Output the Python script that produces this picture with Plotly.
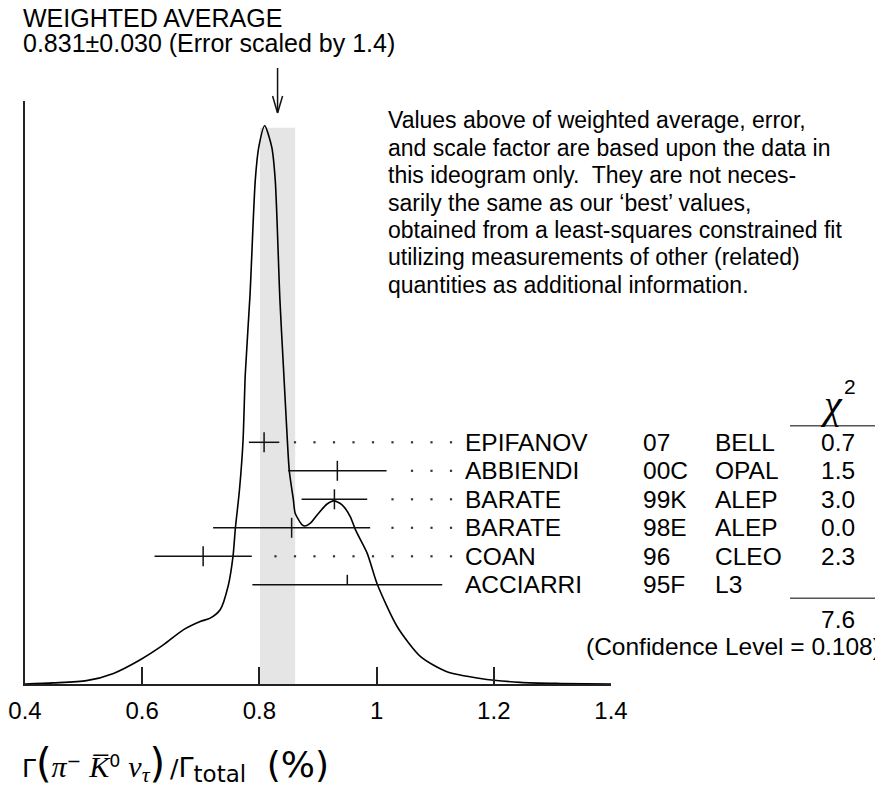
import plotly.graph_objects as go

# ---------------- data ----------------
authors = ["EPIFANOV", "ABBIENDI", "BARATE", "BARATE", "COAN", "ACCIARRI"]
years = ["07", "00C", "99K", "98E", "96", "95F"]
experiments = ["BELL", "OPAL", "ALEP", "ALEP", "CLEO", "L3"]
values = [0.808, 0.933, 0.928, 0.855, 0.704, 0.950]
errors = [0.026, 0.084, 0.056, 0.134, 0.083, 0.162]
chi2 = ["0.7", "1.5", "3.0", "0.0", "2.3", ""]
used = [True, True, True, True, True, False]

AVG = 0.831
AVG_ERR = 0.030
SCALE = 1.4
CHI2_TOTAL = "7.6"
CONF_LEVEL = "0.108"

# ideogram curve (relative height, peak = 1)
curve_x = [0.400, 0.448, 0.505, 0.551, 0.596, 0.636, 0.670, 0.699, 0.716, 0.733,
           0.747, 0.755, 0.759, 0.766, 0.772, 0.776, 0.784, 0.793, 0.799, 0.809,
           0.821, 0.827, 0.835, 0.841, 0.847, 0.851, 0.858, 0.861, 0.873, 0.878,
           0.887, 0.901, 0.915, 0.927, 0.941, 0.955, 0.964, 0.984, 1.001, 1.035,
           1.075, 1.120, 1.177, 1.245, 1.314, 1.400]
curve_y = [0.000, 0.002, 0.006, 0.019, 0.043, 0.070, 0.097, 0.112, 0.118, 0.133,
           0.177, 0.229, 0.279, 0.348, 0.434, 0.557, 0.697, 0.903, 0.962, 1.000,
           0.962, 0.903, 0.688, 0.568, 0.450, 0.382, 0.330, 0.306, 0.285, 0.283,
           0.288, 0.306, 0.322, 0.328, 0.321, 0.300, 0.276, 0.234, 0.179, 0.103,
           0.049, 0.022, 0.010, 0.003, 0.001, 0.000]

tick_vals = [0.4, 0.6, 0.8, 1.0, 1.2, 1.4]
tick_text = ["0.4", "0.6", "0.8", "1", "1.2", "1.4"]

paragraph = [
    "Values above of weighted average, error,",
    "and scale factor are based upon the data in",
    "this ideogram only.  They are not neces-",
    "sarily the same as our \u2018best\u2019 values,",
    "obtained from a least-squares constrained fit",
    "utilizing measurements of other (related)",
    "quantities as additional information.",
]

# ---------------- layout geometry (reference pixel frame) ----------------
W, H = 883, 789
OFF = 8                   # page body margin of the browser
L, R, T, B = 25, 611, 101, 684
XMIN, XMAX = 0.4, 1.4
YTOP = 1.0443             # relative height at top of plot area
ROW0, ROW_STEP = 442.3, 28.5
FONT = "Liberation Sans, Arial, Helvetica, sans-serif"


def px(x):
    return (x - L) / (R - L)


def py(y):
    return (B - y) / (B - T)


y2_bottom = (B - ROW0) / ROW_STEP
y2_top = (T - ROW0) / ROW_STEP
TICK = 10.0 / ROW_STEP
rows = list(range(len(authors)))

fig = go.Figure()

# ideogram curve
fig.add_trace(go.Scatter(
    x=curve_x, y=curve_y, mode="lines",
    line=dict(color="black", width=1.6, shape="spline", smoothing=0.7),
    hoverinfo="skip", showlegend=False))

# measurements with error bars
fig.add_trace(go.Scatter(
    x=values, y=rows, yaxis="y2", mode="markers",
    marker=dict(size=1, color="rgba(0,0,0,0)"),
    error_x=dict(type="data", array=errors, symmetric=True, width=0,
                 thickness=1.5, color="#111"),
    error_y=dict(type="data",
                 array=[TICK if u else 0 for u in used],
                 arrayminus=[TICK for _ in used],
                 symmetric=False, width=0, thickness=1.5, color="#111"),
    hoverinfo="skip", showlegend=False))

# dotted leaders
DOT_END = 0.4 + (451 - L) / (R - L)
DOT_STEP = 19.5 / (R - L)
DOT_GAP = 8.0 / (R - L)
dx, dy = [], []
for i, (v, e, u) in enumerate(zip(values, errors, used)):
    if not u:
        continue
    k = 0
    while DOT_END - k * DOT_STEP > v + e + DOT_GAP:
        dx.append(DOT_END - k * DOT_STEP)
        dy.append(i)
        k += 1
fig.add_trace(go.Scatter(
    x=dx, y=dy, yaxis="y2", mode="markers",
    marker=dict(size=2.2, color="#333", symbol="square"),
    hoverinfo="skip", showlegend=False))

shapes = []
# weighted-average band
shapes.append(dict(type="rect", xref="x", yref="y", x0=AVG - AVG_ERR, x1=AVG + AVG_ERR,
                   y0=0, y1=0.9964, fillcolor="#e5e5e5", line=dict(width=0), layer="below"))
# arrow
hw = 5.0 / (R - L)
shapes.append(dict(type="line", xref="x", yref="paper", x0=AVG, x1=AVG,
                   y0=py(68), y1=py(112), line=dict(color="#111", width=1.5)))
shapes.append(dict(type="line", xref="x", yref="paper", x0=AVG - hw, x1=AVG,
                   y0=py(96), y1=py(113), line=dict(color="#111", width=1.5)))
shapes.append(dict(type="line", xref="x", yref="paper", x0=AVG + hw, x1=AVG,
                   y0=py(96), y1=py(113), line=dict(color="#111", width=1.5)))
# chi2 rules
for yy in (425.7, 598.3):
    shapes.append(dict(type="line", xref="paper", yref="paper", x0=px(790), x1=px(883),
                       y0=py(yy), y1=py(yy), line=dict(color="#555", width=1.5)))

ann = []


def text(x, y, s, size=24.5, xanchor="left", yref="paper", family=FONT):
    ann.append(dict(x=x, y=y, xref="paper", yref=yref, text=s, showarrow=False,
                    xanchor=xanchor, yanchor="middle", borderpad=0,
                    font=dict(size=size, color="black", family=family)))


text(px(22), py(18), "WEIGHTED AVERAGE", size=25)
text(px(22), py(43), f"{AVG:.3f}\u00b1{AVG_ERR:.3f} (Error scaled by {SCALE})", size=25)

for j, line in enumerate(paragraph):
    text(px(387), py(120 + 27.5 * j), line, size=23)

for i in rows:
    text(px(464), i, authors[i], yref="y2")
    text(px(642), i, years[i], yref="y2")
    text(px(714), i, experiments[i], yref="y2")
    if chi2[i]:
        text(px(838.3), i, chi2[i], xanchor="center", yref="y2")

text(px(831), py(404), "<i>\u03c7</i>", size=40, xanchor="center",
     family="Liberation Serif, DejaVu Serif, serif")
text(px(850), py(386), "2", size=21, xanchor="center")
text(px(838.3), py(619.3), CHI2_TOTAL, xanchor="center")
text(px(882), py(646.7), f"(Confidence Level = {CONF_LEVEL})", xanchor="right")

serif = "font-family:Liberation Serif, DejaVu Serif, serif"
xtitle = ("\u0393<span style='font-size:40px'>(</span>"
          f"<span style='{serif};font-size:30px'><i>\u03c0</i></span><sup>\u2212</sup> "
          f"<span style='{serif};font-size:30px'><i>K\u0305</i></span><sup>0</sup> "
          f"<span style='{serif};font-size:30px'><i>\u03bd</i></span>"
          f"<sub><span style='{serif};font-size:22px'><i>\u03c4</i></span></sub>"
          "<span style='font-size:40px'>)</span>\u2009/"
          "<span style='font-size:27px'>\u0393</span>"
          "<sub><span style='font-size:23px'>total</span></sub>\u2002 "
          "<span style='font-size:36px'>(%)</span>")
text(px(21), py(763), xtitle, size=25, family="DejaVu Sans, sans-serif")

fig.update_layout(
    width=W - OFF, height=H - OFF,
    margin=dict(l=L - OFF, r=W - R, t=T - OFF, b=H - B, autoexpand=False),
    paper_bgcolor="white", plot_bgcolor="white",
    shapes=shapes, annotations=ann,
    font=dict(family=FONT, size=24, color="black"),
    xaxis=dict(range=[XMIN, XMAX], tickvals=tick_vals, ticktext=tick_text,
               ticks="inside", ticklen=17, tickwidth=1.5, tickcolor="#222",
               showline=True, linecolor="#222", linewidth=1.5,
               showgrid=False, zeroline=False, automargin=False,
               tickfont=dict(size=24, family=FONT, color="black"),
               ticklabelstandoff=4),
    yaxis=dict(range=[0, YTOP], showline=True, linecolor="#222", linewidth=1.5,
               showticklabels=False, ticks="", showgrid=False, zeroline=False,
               automargin=False),
    yaxis2=dict(range=[y2_bottom, y2_top], overlaying="y", visible=False,
                showgrid=False, zeroline=False),
    showlegend=False,
)

fig.write_html("out.html")
